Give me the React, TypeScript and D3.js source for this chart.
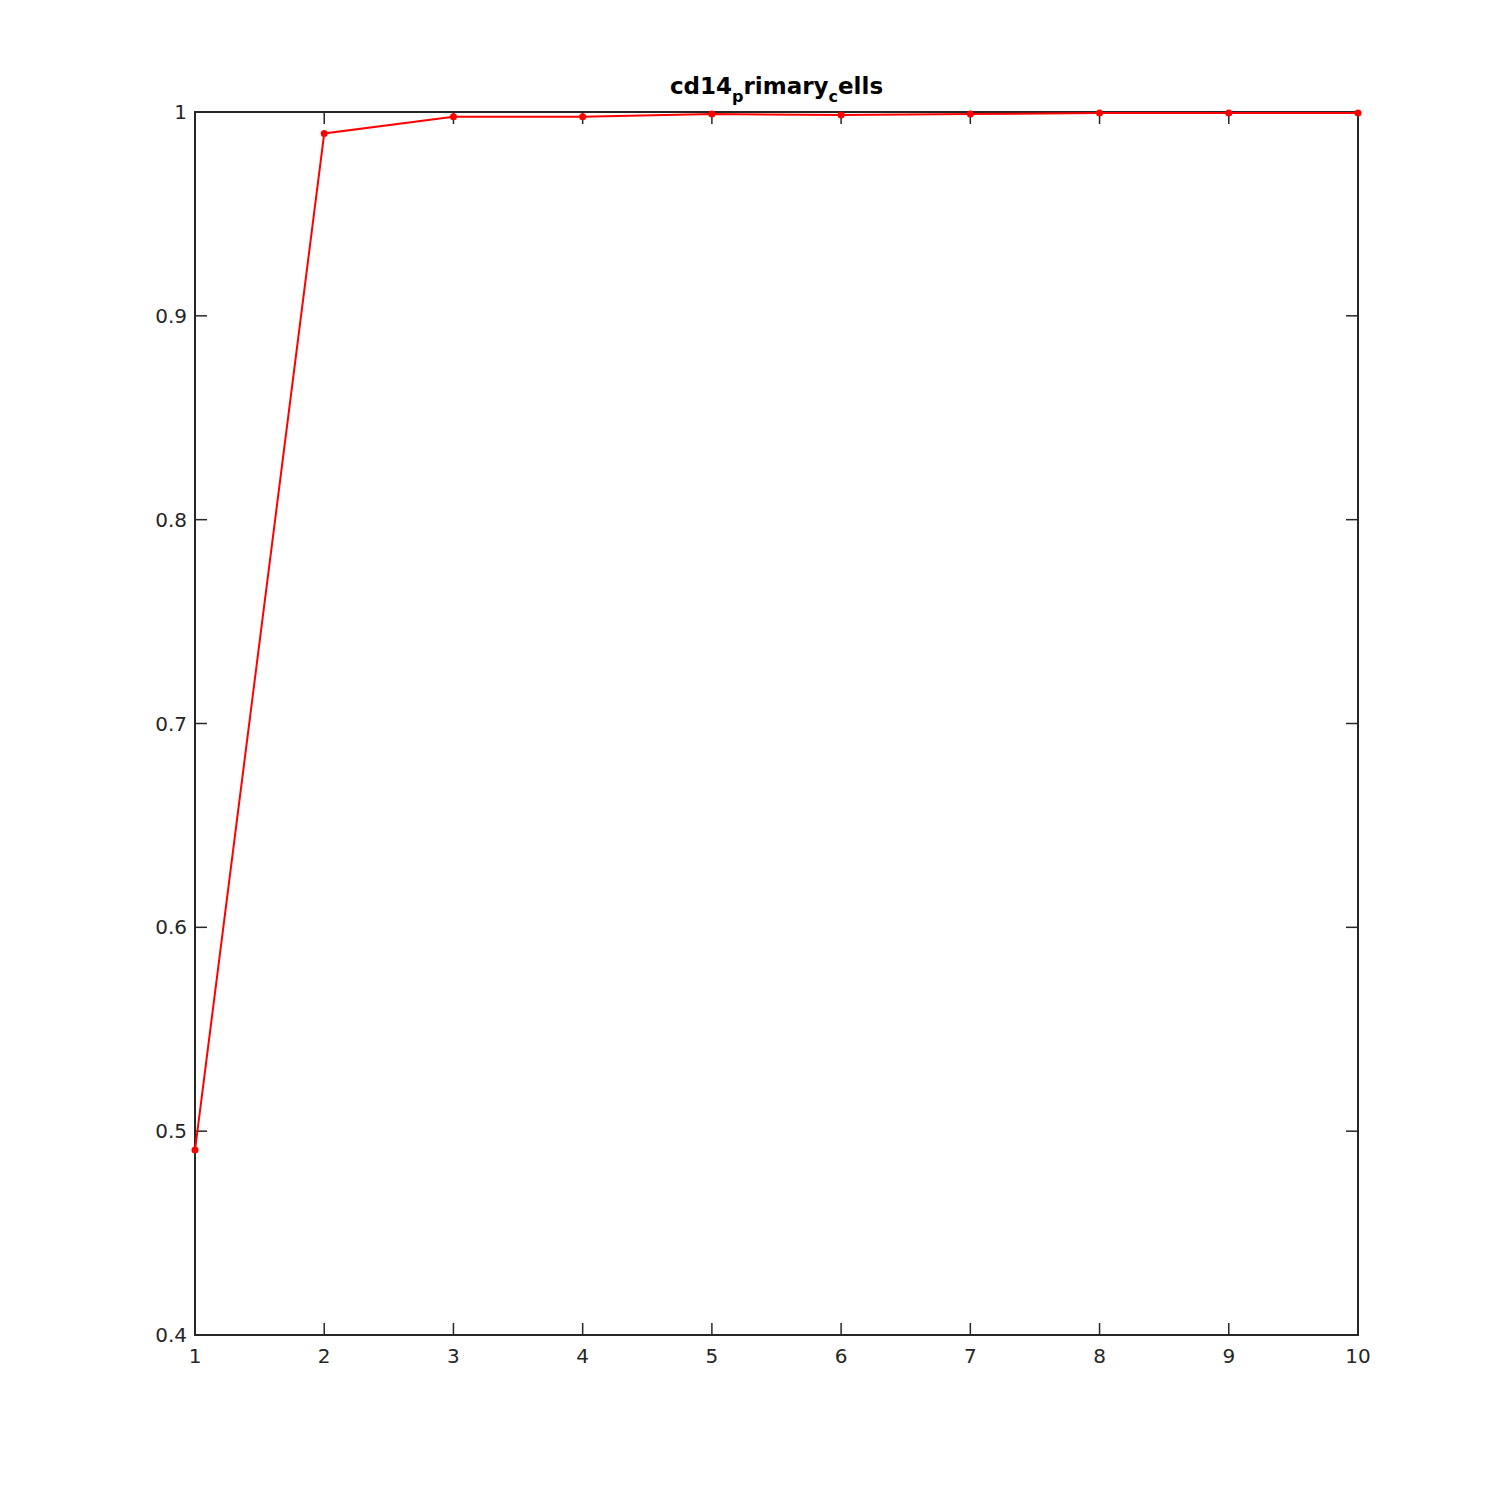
import { useRef, useEffect } from "react";
import * as d3 from "d3";

// values
const xValues = [1, 2, 3, 4, 5, 6, 7, 8, 9, 10];
const yValues = [0.4907, 0.9895, 0.9977, 0.9977, 0.999, 0.9985, 0.999, 0.9995, 0.9995, 0.9995];
const xTicks = [1, 2, 3, 4, 5, 6, 7, 8, 9, 10];
const yTicks = [0.4, 0.5, 0.6, 0.7, 0.8, 0.9, 1];

const App = () => {
  const svgRef = useRef<SVGSVGElement>(null);
  const width = 1500;
  const height = 1500;
  const left = 195, right = 1358, top = 112, bottom = 1335;

  useEffect(() => {
    const svg = d3.select(svgRef.current);
    svg.selectAll("*").remove();

    const x = d3.scaleLinear().domain([1, 10]).range([left, right]);
    const y = d3.scaleLinear().domain([0.4, 1]).range([bottom, top]);
    const axisColor = "#262626";
    const font = "DejaVu Sans, sans-serif";

    svg.append("rect").attr("width", width).attr("height", height).attr("fill", "#fff");

    // ticks (inward, on all four sides)
    const g = svg.append("g").attr("stroke", axisColor).attr("stroke-width", 1.5);
    xTicks.forEach(t => {
      g.append("line").attr("x1", x(t)).attr("x2", x(t)).attr("y1", bottom).attr("y2", bottom - 12);
      g.append("line").attr("x1", x(t)).attr("x2", x(t)).attr("y1", top).attr("y2", top + 12);
    });
    yTicks.forEach(t => {
      g.append("line").attr("x1", left).attr("x2", left + 12).attr("y1", y(t)).attr("y2", y(t));
      g.append("line").attr("x1", right).attr("x2", right - 12).attr("y1", y(t)).attr("y2", y(t));
    });
    svg.append("rect")
      .attr("x", left).attr("y", top)
      .attr("width", right - left).attr("height", bottom - top)
      .attr("fill", "none").attr("stroke", axisColor).attr("stroke-width", 2);

    // tick labels
    svg.append("g").selectAll("text").data(xTicks).enter().append("text")
      .attr("x", d => x(d)).attr("y", bottom + 28)
      .attr("text-anchor", "middle")
      .attr("font-family", font).attr("font-size", 20).attr("fill", axisColor)
      .text(d => d);
    svg.append("g").selectAll("text").data(yTicks).enter().append("text")
      .attr("x", left - 8).attr("y", d => y(d) + 7)
      .attr("text-anchor", "end")
      .attr("font-family", font).attr("font-size", 20).attr("fill", axisColor)
      .text(d => d);

    // title with subscripts
    const title = svg.append("text")
      .attr("x", (left + right) / 2).attr("y", 94)
      .attr("text-anchor", "middle")
      .attr("font-family", font).attr("font-size", 23).attr("font-weight", "bold").attr("fill", "#000");
    title.append("tspan").text("cd14");
    title.append("tspan").attr("font-size", 16).attr("dy", 8).text("p");
    title.append("tspan").attr("dy", -8).text("rimary");
    title.append("tspan").attr("font-size", 16).attr("dy", 8).text("c");
    title.append("tspan").attr("dy", -8).text("ells");

    const data = xValues.map((v, i) => [v, yValues[i]] as [number, number]);
    const line = d3.line<[number, number]>().x(d => x(d[0])).y(d => y(d[1]));
    svg.append("path").datum(data)
      .attr("d", line)
      .attr("fill", "none").attr("stroke", "#ff0000").attr("stroke-width", 2);
    svg.append("g").selectAll("circle").data(data).enter().append("circle")
      .attr("cx", d => x(d[0])).attr("cy", d => y(d[1])).attr("r", 3.5)
      .attr("fill", "#ff0000");
  }, []);

  return (
    <svg ref={svgRef} width={width} height={height}
      style={{ position: "absolute", left: 0, top: 0 }}></svg>
  );
};

export default App;
